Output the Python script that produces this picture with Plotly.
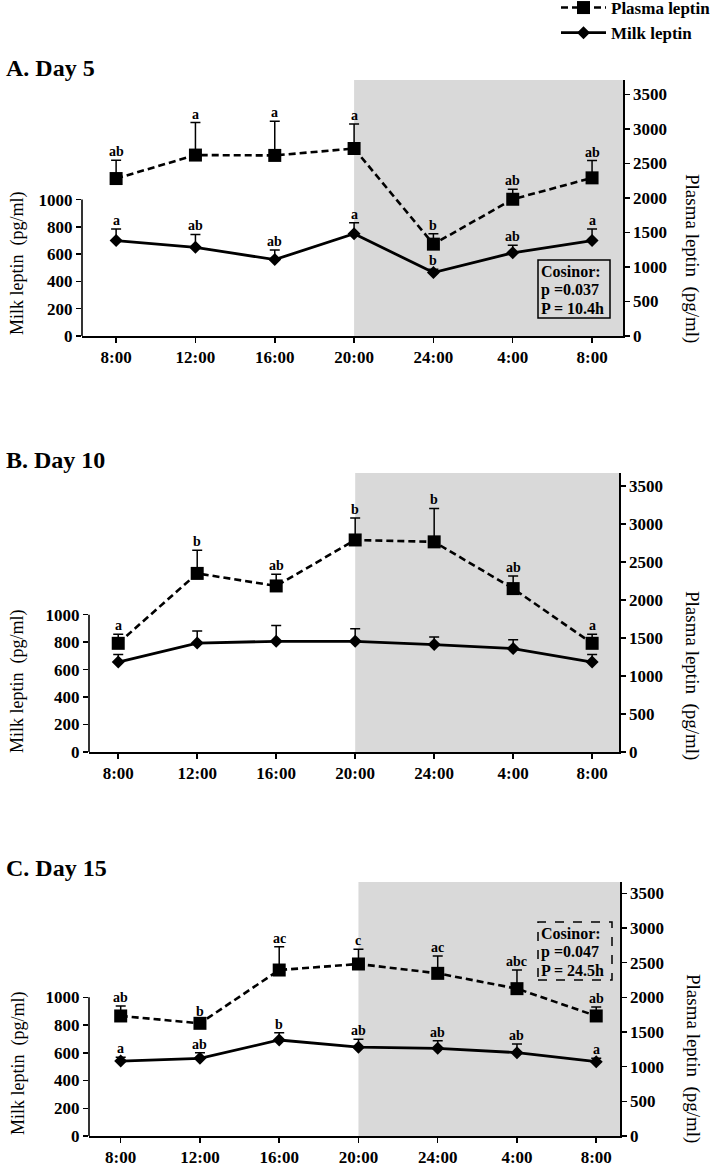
import plotly.graph_objects as go

W, H = 716, 1167
FONT = "Liberation Serif"

# ---------------- data ----------------
times = ["8:00", "12:00", "16:00", "20:00", "24:00", "4:00", "8:00"]

# Panel A - Day 5
plasma_a = [2280, 2620, 2615, 2715, 1330, 1980, 2290]
plasma_a_top = [2545, 3090, 3110, 3070, 1480, 2125, 2540]
plasma_a_lbl = ["ab", "a", "a", "a", "b", "ab", "ab"]
milk_a = [700, 650, 560, 750, 465, 610, 700]
milk_a_top = [785, 745, 630, 830, 490, 665, 785]
milk_a_lbl = ["a", "ab", "ab", "a", "b", "ab", "a"]

# Panel B - Day 10
plasma_b = [1430, 2350, 2185, 2790, 2765, 2150, 1430]
plasma_b_top = [1550, 2655, 2340, 3080, 3205, 2315, 1550]
plasma_b_lbl = ["a", "b", "ab", "b", "b", "ab", "a"]
milk_b = [655, 793, 806, 806, 782, 753, 655]
milk_b_top = [709, 881, 920, 898, 837, 818, 709]
milk_b_lbl = ["", "", "", "", "", "", ""]

# Panel C - Day 15
plasma_c = [1732, 1626, 2395, 2482, 2347, 2126, 1732]
plasma_c_top = [1876, 1680, 2732, 2694, 2597, 2395, 1860]
plasma_c_lbl = ["ab", "b", "ac", "c", "ac", "abc", "ab"]
milk_c = [540, 560, 692, 640, 632, 601, 536]
milk_c_top = [567, 601, 745, 697, 687, 663, 560]
milk_c_lbl = ["a", "ab", "b", "ab", "ab", "ab", "a"]

titles = ["A. Day 5", "B. Day 10", "C. Day 15"]
cosinor = [["Cosinor:", "p =0.037", "P = 10.4h"], None, ["Cosinor:", "p =0.047", "P = 24.5h"]]

left_ticks = [0, 200, 400, 600, 800, 1000]
right_ticks = [0, 500, 1000, 1500, 2000, 2500, 3000, 3500]

# ---------------- layout geometry (pixels) ----------------
panels = [
    dict(x0=82, x1=623, top=80, bot=336, xr=(-0.43, 6.39), yl=1877, yr=3707,
         title_y=68, box=(538, 610, 260, 318), box_dash="solid",
         ltitle=(18, 263), rtitle=(692, 258)),
    dict(x0=89, x1=619, top=473, bot=752, xr=(-0.37, 6.34), yl=2031, yr=3671,
         title_y=460, box=None, box_dash=None,
         ltitle=(17, 681), rtitle=(692, 675)),
    dict(x0=89, x1=620, top=882, bot=1136, xr=(-0.40, 6.30), yl=1831, yr=3665,
         title_y=868, box=(538, 612, 922, 980), box_dash="dash",
         ltitle=(18, 1063), rtitle=(693, 1058)),
]

data_sets = [
    (plasma_a, plasma_a_top, plasma_a_lbl, milk_a, milk_a_top, milk_a_lbl),
    (plasma_b, plasma_b_top, plasma_b_lbl, milk_b, milk_b_top, milk_b_lbl),
    (plasma_c, plasma_c_top, plasma_c_lbl, milk_c, milk_c_top, milk_c_lbl),
]

def px(x):
    return x / W

def py(y):
    return 1 - y / H

fig = go.Figure()
layout = dict(
    width=W, height=H,
    margin=dict(l=0, r=0, t=0, b=0, autoexpand=False),
    paper_bgcolor="white", plot_bgcolor="rgba(0,0,0,0)",
    font=dict(family=FONT, color="black"),
    showlegend=True,
    legend=dict(x=px(556), y=py(-10), xanchor="left", yanchor="top",
                font=dict(family=FONT, size=17, color="black", weight="bold"),
                bgcolor="rgba(0,0,0,0)", itemwidth=45, tracegroupgap=0,
                traceorder="normal"),
)
shapes = []
annotations = []

xs = list(range(len(times)))

for i, (p, d) in enumerate(zip(panels, data_sets)):
    n = i + 1
    xa = "x" if n == 1 else f"x{n}"
    yl = "y" if n == 1 else f"y{2*n-1}"
    yr = f"y{2*n}"
    xkey = "xaxis" if n == 1 else f"xaxis{n}"
    ylkey = "yaxis" if n == 1 else f"yaxis{2*n-1}"
    yrkey = f"yaxis{2*n}"

    tickfont = dict(family=FONT, size=17, color="black", weight="bold")
    layout[xkey] = dict(domain=[px(p["x0"]), px(p["x1"])], anchor=yl,
                        range=list(p["xr"]), tickmode="array", tickvals=xs,
                        ticktext=times, showline=True, linecolor="black",
                        linewidth=1.6, ticks="outside", ticklen=5, tickwidth=1.5,
                        tickcolor="black", showgrid=False, zeroline=False,
                        tickfont=tickfont, fixedrange=True)
    layout[ylkey] = dict(domain=[py(p["bot"]), py(p["top"])], anchor=xa,
                         range=[0, p["yl"]], tickmode="array", tickvals=left_ticks,
                         ticks="outside", ticklen=5, tickwidth=1.5, tickcolor="black",
                         showline=False, showgrid=False, zeroline=False,
                         tickfont=tickfont, fixedrange=True)
    layout[yrkey] = dict(overlaying=yl, side="right", anchor=xa,
                         range=[0, p["yr"]], tickmode="array", tickvals=right_ticks,
                         ticks="outside", ticklen=5, tickwidth=1.5, tickcolor="black",
                         showline=True, linecolor="black", linewidth=1.6,
                         showgrid=False, zeroline=False,
                         tickfont=tickfont, fixedrange=True)

    plasma, plasma_top, plasma_lbl, milk, milk_top, milk_lbl = d

    # dark-phase shading
    shapes.append(dict(type="rect", xref=xa, yref=f"{yl} domain",
                       x0=3, x1=p["xr"][1], y0=0, y1=1,
                       fillcolor="#d9d9d9", line=dict(width=0), layer="below"))
    # left axis line only from 0 to 1000
    shapes.append(dict(type="line", xref=f"{xa} domain", yref=yl,
                       x0=0, x1=0, y0=0, y1=1000,
                       line=dict(color="black", width=1.6)))

    fig.add_trace(go.Scatter(
        x=xs, y=plasma, xaxis=xa, yaxis=yr, name="Plasma leptin",
        mode="lines+markers", showlegend=(n == 1), legendgroup="plasma",
        line=dict(color="black", width=2.6, dash="7px,4px"),
        marker=dict(symbol="square", size=13, color="black"),
        error_y=dict(type="data", symmetric=False,
                     array=[t - v for t, v in zip(plasma_top, plasma)],
                     arrayminus=[0] * len(plasma),
                     thickness=1.5, width=5, color="black"),
    ))
    fig.add_trace(go.Scatter(
        x=xs, y=milk, xaxis=xa, yaxis=yl, name="Milk leptin",
        mode="lines+markers", showlegend=(n == 1), legendgroup="milk",
        line=dict(color="black", width=2.8),
        marker=dict(symbol="diamond", size=10, color="black"),
        error_y=dict(type="data", symmetric=False,
                     array=[t - v for t, v in zip(milk_top, milk)],
                     arrayminus=[0] * len(milk),
                     thickness=1.5, width=5, color="black"),
    ))

    lblfont = dict(family=FONT, size=14, color="black", weight="bold")
    for k in xs:
        if plasma_lbl[k]:
            annotations.append(dict(x=k, y=plasma_top[k], xref=xa, yref=yr,
                                    text=plasma_lbl[k], showarrow=False,
                                    yanchor="bottom", yshift=-1, font=lblfont))
        if milk_lbl[k]:
            annotations.append(dict(x=k, y=milk_top[k], xref=xa, yref=yl,
                                    text=milk_lbl[k], showarrow=False,
                                    yanchor="bottom", yshift=-1, font=lblfont))

    # panel title
    annotations.append(dict(x=px(4), y=py(p["title_y"]), xref="paper", yref="paper",
                            text=titles[i], showarrow=False, xanchor="left",
                            yanchor="middle",
                            font=dict(family=FONT, size=24, color="black", weight="bold")))
    # axis titles
    annotations.append(dict(x=px(p["ltitle"][0]), y=py(p["ltitle"][1]),
                            xref="paper", yref="paper",
                            text="Milk leptin\u00a0\u00a0(pg/ml)", showarrow=False,
                            textangle=-90, xanchor="center", yanchor="middle",
                            font=dict(family=FONT, size=18, color="black")))
    annotations.append(dict(x=px(p["rtitle"][0]), y=py(p["rtitle"][1]),
                            xref="paper", yref="paper",
                            text="Plasma leptin\u00a0\u00a0(pg/ml)", showarrow=False,
                            textangle=90, xanchor="center", yanchor="middle",
                            font=dict(family=FONT, size=19, color="black")))
    # cosinor box
    if p["box"] is not None:
        bx0, bx1, by0, by1 = p["box"]
        shapes.append(dict(type="rect", xref="paper", yref="paper",
                           x0=px(bx0), x1=px(bx1), y0=py(by1), y1=py(by0),
                           line=dict(color="black", width=1.5, dash=p["box_dash"]),
                           fillcolor="rgba(0,0,0,0)"))
        for j, line in enumerate(cosinor[i]):
            annotations.append(dict(x=px(bx0 + 1), y=py(by0 + 11.5 + 18.5 * j),
                                    xref="paper", yref="paper", text=line,
                                    showarrow=False, xanchor="left", yanchor="middle",
                                    align="left",
                                    font=dict(family=FONT, size=16, color="black",
                                              weight="bold")))

layout["shapes"] = shapes
layout["annotations"] = annotations
fig.update_layout(**layout)
fig.write_html(
    "out.html",
    config={"displayModeBar": False, "staticPlot": True},
    post_script="document.body.style.margin='0px';document.body.style.padding='0px';"
                "document.body.style.overflow='hidden';",
)
